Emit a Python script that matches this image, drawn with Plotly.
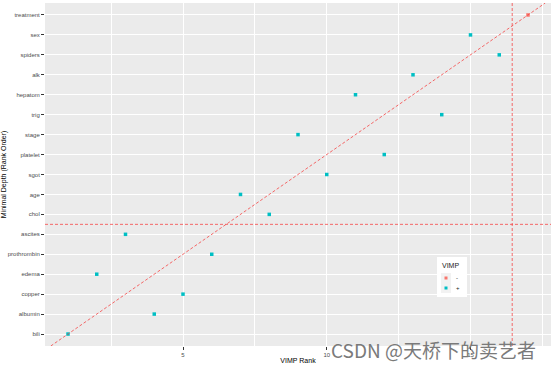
import plotly.graph_objects as go

# Variables in minimal-depth rank order (1 = bili ... 17 = treatment)
variables = ["bili", "albumin", "copper", "edema", "prothrombin", "ascites", "chol",
             "age", "sgot", "platelet", "stage", "trig", "hepatom", "alk", "spiders",
             "sex", "treatment"]
depth_rank = list(range(1, len(variables) + 1))
vimp_rank = [1, 4, 5, 2, 6, 3, 8, 7, 10, 12, 9, 14, 11, 13, 16, 15, 17]
vimp_sign = ["+", "+", "+", "+", "+", "+", "+", "+", "+", "+", "+", "+", "+", "+", "+", "+", "-"]
legend_levels = ["-", "+"]

vline_x = 16.45
hline_y = 6.5

colors = {"-": "#F8766D", "+": "#00BFC4"}

W, H = 554, 367
ML, MR, MT, MB = 45, 3, 3, 21
xr = [0.2, 17.8]
yr = [0.4, 17.6]

def px(x):
    return (x - ML) / (W - ML - MR)

def py(y):
    return 1 - (y - MT) / (H - MT - MB)

fig = go.Figure()
for s in legend_levels:
    xs = [v for v, g in zip(vimp_rank, vimp_sign) if g == s]
    ys = [d for d, g in zip(depth_rank, vimp_sign) if g == s]
    fig.add_trace(go.Scatter(x=xs, y=ys, mode="markers", name=s, showlegend=False,
                             marker=dict(color=colors[s], size=3.5, symbol="square")))

lo = max(xr[0], yr[0]); hi = min(xr[1], yr[1])
line_style = dict(color="rgba(245,70,70,0.8)", width=1, dash="3px,2px")
fig.add_shape(type="line", x0=lo, y0=lo, x1=hi, y1=hi, xref="x", yref="y", line=line_style)
fig.add_shape(type="line", x0=vline_x, x1=vline_x, y0=yr[0], y1=yr[1], xref="x", yref="y", line=line_style)
fig.add_shape(type="line", x0=xr[0], x1=xr[1], y0=hline_y, y1=hline_y, xref="x", yref="y", line=line_style)

# manual legend (compact, like ggplot)
fig.add_shape(type="rect", xref="paper", yref="paper", x0=px(437), x1=px(467), y0=py(297), y1=py(257),
              fillcolor="white", line=dict(width=0), layer="above")
fig.add_annotation(text="VIMP", xref="paper", yref="paper", x=px(440), y=py(265), xanchor="left",
                   yanchor="middle", showarrow=False, font=dict(size=7, color="#222"))
for i, s in enumerate(legend_levels):
    cy = 278 + 10 * i
    fig.add_shape(type="rect", xref="paper", yref="paper", x0=px(441), x1=px(451), y0=py(cy + 5), y1=py(cy - 5),
                  fillcolor="#F2F2F2", line=dict(width=0), layer="above")
    fig.add_shape(type="rect", xref="paper", yref="paper", x0=px(444.5), x1=px(447.5), y0=py(cy + 1.5), y1=py(cy - 1.5),
                  fillcolor=colors[s], line=dict(width=0), layer="above")
    fig.add_annotation(text=s, xref="paper", yref="paper", x=px(454), y=py(cy), xanchor="left",
                       yanchor="middle", showarrow=False, font=dict(size=6, color="#222"))

fig.update_layout(
    width=W, height=H,
    margin=dict(l=ML, r=MR, t=MT, b=MB, autoexpand=False),
    paper_bgcolor="white", plot_bgcolor="#EBEBEB",
    font=dict(family="Liberation Sans, Arial", size=6, color="#4D4D4D"),
    showlegend=False,
    xaxis=dict(range=xr, tick0=0, dtick=5, showgrid=True, gridcolor="white", gridwidth=1,
               minor=dict(dtick=2.5, showgrid=True, gridcolor="white", gridwidth=0.5),
               ticks="outside", ticklen=3, tickcolor="#333", zeroline=False,
               title=dict(text="VIMP Rank", font=dict(size=7, color="#000"), standoff=0)),
    yaxis=dict(range=yr, tickvals=depth_rank, ticktext=variables, showgrid=True,
               gridcolor="white", gridwidth=1, ticks="outside", ticklen=3, tickcolor="#333",
               zeroline=False,
               title=dict(text="Minimal Depth (Rank Order)", font=dict(size=7, color="#000"), standoff=1)),
)

fig.add_annotation(text="CSDN @天桥下的卖艺者", xref="paper", yref="paper",
                   x=px(538), y=py(349), xanchor="right", yanchor="middle", showarrow=False,
                   font=dict(family="Noto Sans CJK SC", size=19, color="#7a7a7a"))

fig.write_html("out.html", config={"displayModeBar": False},
               post_script="document.body.style.margin='0';document.body.style.overflow='hidden';")
